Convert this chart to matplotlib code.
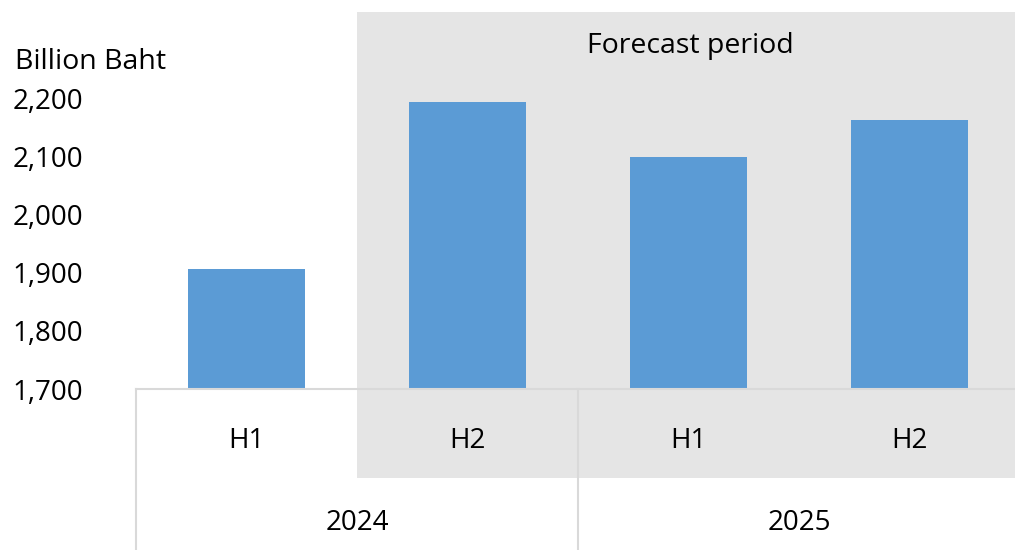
import matplotlib.pyplot as plt
from matplotlib.patches import Rectangle
from matplotlib.transforms import blended_transform_factory

plt.rcParams['font.family'] = ['Open Sans', 'DejaVu Sans']

halves = ['H1', 'H2', 'H1', 'H2']
years = ['2024', '2025']
values = [1907, 2193, 2098, 2162]
y_ticks = [1700, 1800, 1900, 2000, 2100, 2200]

bar_color = '#5B9BD5'
shade = '#E5E5E5'
grid_color = '#D9D9D9'

fig = plt.figure(figsize=(10.15, 5.5), dpi=100)
ax = fig.add_axes([0.134, 0.2927, 0.871, 0.529])

x = list(range(len(values)))
ax.bar(x, [v - 1700 for v in values], bottom=1700, width=0.53, color=bar_color, zorder=3)
ax.set_xlim(-0.5, 3.5)
ax.set_ylim(1700, 2200)

ax.set_yticks(y_ticks)
ax.set_yticklabels([f'{t:,}' for t in y_ticks], fontsize=20)
ax.tick_params(axis='y', length=0, pad=38)
ax.set_xticks([])
for s in ax.spines.values():
    s.set_visible(False)
ax.patch.set_alpha(0)

# data x, figure y for everything below/above the plot area
tr = blended_transform_factory(ax.transData, fig.transFigure)

# forecast shading from H2 2024 onward
ax.add_patch(Rectangle((0.5, 0.131), 3.0, 0.978 - 0.131, transform=tr,
                       facecolor=shade, edgecolor='none', zorder=0, clip_on=False))
fig.text(0.68, 0.916, 'Forecast period', ha='center', va='center', fontsize=20.5)
fig.text(0.015, 0.887, 'Billion Baht', ha='left', va='center', fontsize=20.5)

# category axis
ax.plot([-0.5, 3.5], [0.2927, 0.2927], color=grid_color, lw=1.5, transform=tr, clip_on=False, zorder=4)
for xv in [-0.5, 1.5]:
    ax.plot([xv, xv], [0.2927, 0.0], color=grid_color, lw=1.5, transform=tr, clip_on=False, zorder=4)

for xi, lab in zip(x, halves):
    ax.text(xi, 1 - 441 / 550, lab, transform=tr, ha='center', va='center', fontsize=20)
for i, yr in enumerate(years):
    ax.text(2 * i + 0.5, 1 - 523 / 550, yr, transform=tr, ha='center', va='center', fontsize=20)

fig.savefig('out.png', dpi=100)
